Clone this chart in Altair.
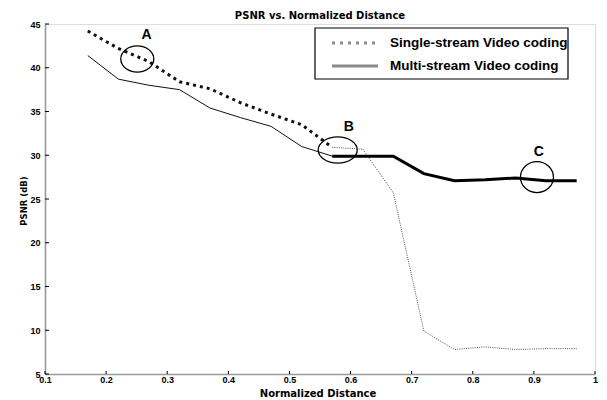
import altair as alt
import pandas as pd

# ---- data ----
x_vals = [0.17, 0.22, 0.27, 0.32, 0.37, 0.42, 0.47, 0.52, 0.57,
          0.62, 0.67, 0.72, 0.77, 0.82, 0.87, 0.92, 0.97]
single_stream = [44.2, 42.2, 40.7, 38.4, 37.6, 36.0, 34.7, 33.5, 30.9,
                 30.7, 25.7, 9.9, 7.8, 8.1, 7.8, 7.9, 7.9]
multi_stream = [41.4, 38.7, 38.0, 37.5, 35.4, 34.3, 33.3, 31.0, 29.9,
                29.9, 29.9, 27.9, 27.1, 27.2, 27.4, 27.1, 27.1]
switch_x = 0.57

x_ticks = [0.1, 0.2, 0.3, 0.4, 0.5, 0.6, 0.7, 0.8, 0.9, 1.0]
y_ticks = [5, 10, 15, 20, 25, 30, 35, 40, 45]

mark_labels = ["A", "B", "C"]
circle_x = [0.251, 0.579, 0.905]
circle_y = [41.0, 30.6, 27.5]
label_x = [0.266, 0.597, 0.908]
label_y = [43.7, 33.2, 30.4]

legend_labels = ["Single-stream Video coding", "Multi-stream Video coding"]
title_text = "PSNR vs. Normalized Distance"
x_title = "Normalized Distance"
y_title = "PSNR (dB)"

W, H = 550, 350
FONT = "Liberation Sans"
TFONT = "DejaVu Sans"

df = pd.DataFrame({"x": x_vals, "single": single_stream, "multi": multi_stream})
marks_df = pd.DataFrame({"label": mark_labels, "cx": circle_x, "cy": circle_y,
                         "lx": label_x, "ly": label_y})
xt_df = pd.DataFrame({"t": x_ticks})
yt_df = pd.DataFrame({"t": y_ticks})
one = pd.DataFrame({"k": [0]})

xscale = alt.Scale(domain=[0.1, 1.0], nice=False, zero=False)
yscale = alt.Scale(domain=[5, 45], nice=False, zero=False)

x_axis = alt.Axis(values=x_ticks, title=None, ticks=False, grid=False,
                  labelExpr="datum.value == 1 ? '1' : format(datum.value, '.1f')",
                  labelFont=FONT, labelFontSize=9, labelFontWeight="bold",
                  labelColor="black", labelPadding=1,
                  domainColor="#9a9a9a", domainWidth=1.6, labelFlush=False)
y_axis = alt.Axis(values=y_ticks, title=None, ticks=False, grid=False,
                  labelFont=FONT, labelFontSize=9, labelFontWeight="bold",
                  labelColor="black", labelPadding=5,
                  domainColor="#9a9a9a", domainWidth=1.6, labelFlush=False)

X = alt.X("x:Q", scale=xscale, axis=x_axis)

base = alt.Chart(df)

single_thick = base.transform_filter(alt.datum.x <= switch_x).mark_line(
    color="#111111", strokeWidth=3, strokeDash=[3, 4], strokeCap="butt"
).encode(x=X, y=alt.Y("single:Q", scale=yscale, axis=y_axis))

single_thin = base.transform_filter(alt.datum.x >= switch_x).mark_line(
    color="#555555", strokeWidth=1, strokeDash=[1, 1.2]
).encode(x=alt.X("x:Q", scale=xscale), y=alt.Y("single:Q", scale=yscale))

multi_thin = base.transform_filter(alt.datum.x <= switch_x).mark_line(
    color="#111111", strokeWidth=1
).encode(x=alt.X("x:Q", scale=xscale), y=alt.Y("multi:Q", scale=yscale))

multi_thick = base.transform_filter(alt.datum.x >= switch_x).mark_line(
    color="#000000", strokeWidth=3
).encode(x=alt.X("x:Q", scale=xscale), y=alt.Y("multi:Q", scale=yscale))

# inward ticks
x_tick_marks = alt.Chart(xt_df).mark_rule(color="black", strokeWidth=1).encode(
    x=alt.X("t:Q", scale=xscale), y=alt.value(H), y2=alt.value(H - 3))
y_tick_marks = alt.Chart(yt_df).mark_rule(color="black", strokeWidth=1).encode(
    y=alt.Y("t:Q", scale=yscale), x=alt.value(0), x2=alt.value(4))

# annotation ellipses
def ellipse_layer(lbl, ratio, width):
    path = f"M-1,0A1,{ratio},0,1,0,1,0A1,{ratio},0,1,0,-1,0Z"
    return alt.Chart(marks_df).transform_filter(alt.datum.label == lbl).mark_point(
        shape=path, size=width * width, filled=False, color="black",
        strokeWidth=1.3, opacity=1
    ).encode(x=alt.X("cx:Q", scale=xscale), y=alt.Y("cy:Q", scale=yscale))

ell_a = ellipse_layer("A", 0.79, 33)
ell_b = ellipse_layer("B", 0.67, 39)
ell_c = ellipse_layer("C", 0.94, 33)

letters = alt.Chart(marks_df).mark_text(
    font=FONT, fontSize=14, fontWeight="bold", color="black", baseline="middle"
).encode(x=alt.X("lx:Q", scale=xscale), y=alt.Y("ly:Q", scale=yscale), text="label:N")

# titles as text
title_mark = alt.Chart(one).mark_text(
    font=TFONT, fontSize=10, fontWeight="bold", color="black", align="center", baseline="middle"
).encode(x=alt.value(W / 2), y=alt.value(-8.5), text=alt.value(title_text))
xtitle_mark = alt.Chart(one).mark_text(
    font=TFONT, fontSize=10, fontWeight="bold", color="black", align="center", baseline="middle"
).encode(x=alt.value(W / 2 - 2), y=alt.value(370), text=alt.value(x_title))
ytitle_mark = alt.Chart(one).mark_text(
    font=TFONT, fontSize=8.5, fontWeight="bold", color="black", align="center",
    baseline="middle", angle=270
).encode(x=alt.value(-21), y=alt.value(177), text=alt.value(y_title))

# legend box
leg_box = alt.Chart(one).mark_rect(fill="white", stroke="black", strokeWidth=1.2).encode(
    x=alt.value(270), x2=alt.value(523), y=alt.value(4), y2=alt.value(55))
leg_sym1 = alt.Chart(one).mark_rule(color="#8a8a8a", strokeWidth=3, strokeDash=[3, 5]).encode(
    x=alt.value(287), x2=alt.value(333), y=alt.value(19))
leg_sym2 = alt.Chart(one).mark_rule(color="#8a8a8a", strokeWidth=3).encode(
    x=alt.value(287), x2=alt.value(333), y=alt.value(42))
leg_txt1 = alt.Chart(one).mark_text(
    font=FONT, fontSize=13.5, fontWeight="bold", color="black", align="left", baseline="middle"
).encode(x=alt.value(345), y=alt.value(19), text=alt.value(legend_labels[0]))
leg_txt2 = alt.Chart(one).mark_text(
    font=FONT, fontSize=13.5, fontWeight="bold", color="black", align="left", baseline="middle"
).encode(x=alt.value(345), y=alt.value(42), text=alt.value(legend_labels[1]))

chart = alt.layer(
    single_thick, single_thin, multi_thin, multi_thick,
    x_tick_marks, y_tick_marks,
    ell_a, ell_b, ell_c, letters,
    leg_box, leg_sym1, leg_sym2, leg_txt1, leg_txt2,
    title_mark, xtitle_mark, ytitle_mark,
).properties(
    width=W, height=H,
    autosize=alt.AutoSizeParams(type="none"),
    padding={"left": 37, "top": 16, "right": 4, "bottom": 26},
).configure_view(stroke=None).configure(background="white")

chart.save("out.html", embed_options={"renderer": "svg", "actions": False})
